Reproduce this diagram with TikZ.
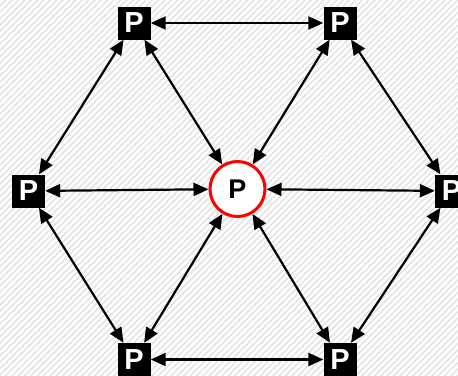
\documentclass[tikz,border=0pt]{standalone}
\usepackage{fontspec}
\setmainfont{Liberation Sans}
\usetikzlibrary{arrows.meta,patterns.meta}
\begin{document}
\begin{tikzpicture}[x=1pt,y=-1pt,
  pbox/.style={fill=black,minimum size=33pt,inner sep=0pt,text=white,font=\fontsize{29}{29}\selectfont\bfseries},
  pcirc/.style={circle,draw=red,line width=3pt,fill=white,minimum size=55pt,inner sep=0pt,font=\fontsize{27}{27}\selectfont\bfseries},
  link/.style={line width=2.2pt,{Triangle[length=15pt,width=13pt]}-{Triangle[length=15pt,width=13pt]}}]
\fill[white] (0,0) rectangle (458,375);
\fill[pattern={Lines[angle=45,distance=4.5pt,line width=1.6pt]},pattern color=black!11] (0,0) rectangle (458,375);
\useasboundingbox (0,0) rectangle (458,375);
\node[pcirc] (c) at (237.5,189) {P};
\node[pbox] (tl) at (134,23) {P};
\node[pbox] (tr) at (340,23) {P};
\node[pbox] (l) at (28.5,191) {P};
\node[pbox] (r) at (451.5,191) {P};
\node[pbox] (bl) at (134,359.5) {P};
\node[pbox] (br) at (340,359.5) {P};
\draw[link] (tl) -- (tr);
\draw[link] (tr) -- (r);
\draw[link] (r) -- (br);
\draw[link] (br) -- (bl);
\draw[link] (bl) -- (l);
\draw[link] (l) -- (tl);
\foreach \n in {tl,tr,r,br,bl,l} \draw[link] (c) -- (\n);
\end{tikzpicture}
\end{document}
